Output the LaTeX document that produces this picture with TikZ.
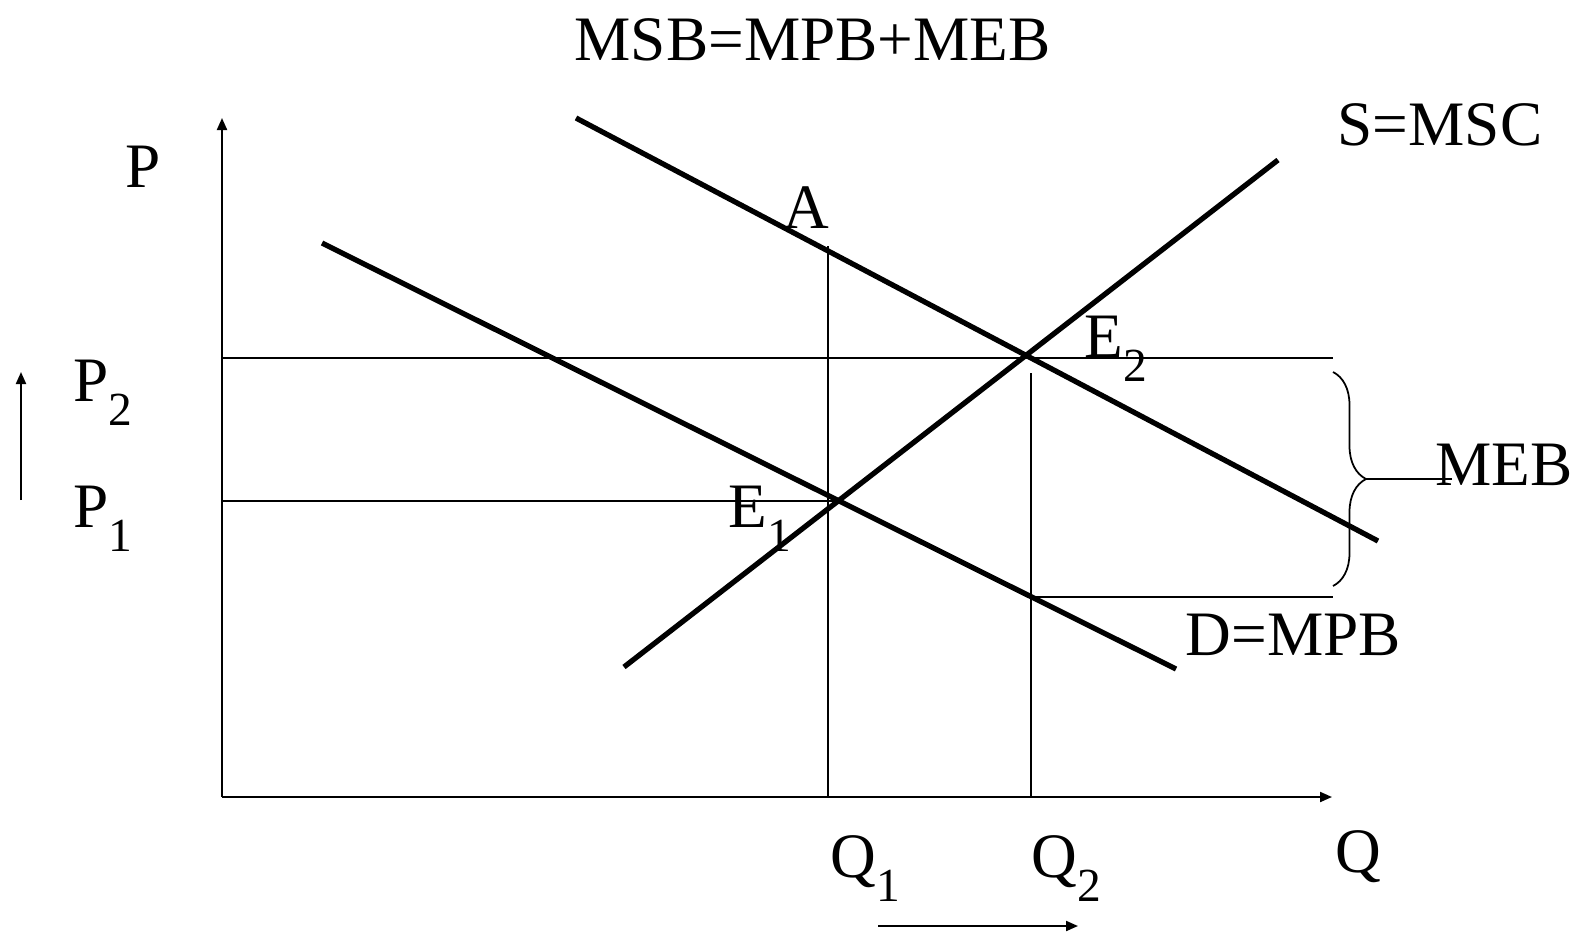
\documentclass[tikz,border=0pt]{standalone}
\usepackage{fontspec}
\setmainfont{Liberation Serif}
\usetikzlibrary{arrows.meta,decorations.pathreplacing}

\newcommand{\lowsub}[1]{\raisebox{-7pt}{\fontsize{13.5}{15}\selectfont #1}}

\begin{document}
\begin{tikzpicture}[x=0.01cm,y=-0.01cm,
  every node/.style={font=\fontsize{18}{21}\selectfont,inner sep=0pt,anchor=base west},
  curve/.style={line width=1.5pt,line cap=butt},
  guide/.style={line width=0.5pt},
  axis/.style={line width=0.6pt,-{Triangle[length=0.12cm,width=0.1cm]}}]
\useasboundingbox (0,0) rectangle (1575,933);
% axes
\coordinate (O) at (222,797);
\coordinate (ytop) at (222,118);
\coordinate (xend) at (1332,797);
\draw[axis] (O) -- (ytop);
\draw[axis] (O) -- (xend);
\node (P) at (125,187) {P};
\node (Q) at (1335,872) {Q};
% the three curves
\coordinate (msb-l) at (576,118); \coordinate (msb-r) at (1378,541);
\coordinate (mpb-l) at (322,243); \coordinate (mpb-r) at (1176,669);
\coordinate (msc-l) at (624,667); \coordinate (msc-r) at (1278,160);
\draw[curve] (msb-l) -- (msb-r);
\draw[curve] (mpb-l) -- (mpb-r);
\draw[curve] (msc-l) -- (msc-r);
% guide lines
\coordinate (E1) at (840,501);
\coordinate (A) at (828,246);
\coordinate (Q1) at (828,797);
\coordinate (Q2) at (1031,797);
\coordinate (Q2top) at (1031,373);
\coordinate (p2l) at (222,358); \coordinate (p2r) at (1333,358);
\coordinate (p1l) at (222,501);
\coordinate (mpbq2) at (1031,597); \coordinate (mpbr) at (1333,597);
\draw[guide] (p2l) -- (p2r);
\draw[guide] (p1l) -- (E1);
\draw[guide] (Q1) -- (A);
\draw[guide] (Q2) -- (Q2top);
\draw[guide] (mpbq2) -- (mpbr);
% brace for MEB
\coordinate (brtop) at (1333,372);
\coordinate (brbot) at (1333,586);
\coordinate (brtip) at (1366,479);
\coordinate (mebend) at (1452,479);
\draw[guide,decorate,decoration={brace,amplitude=0.33cm}] (brtop) -- (brbot);
\draw[guide] (brtip) -- (mebend);
% labels
\node (msb) at (574,60) {MSB=MPB+MEB};
\node (smsc) at (1337,145) {S=MSC};
\node (dmpb) at (1185,655) {D=MPB};
\node (meb) at (1435,485) {MEB};
\node (lA) at (783,228) {A};
\node (lE2) at (1084,357) {E\lowsub{2}};
\node (lE1) at (728,527) {E\lowsub{1}};
\node (P2) at (73,401) {P\lowsub{2}};
\node (P1) at (73,527) {P\lowsub{1}};
\node (Q1lab) at (830,877) {Q\lowsub{1}};
\node (Q2lab) at (1031,877) {Q\lowsub{2}};
% shift arrows
\coordinate (pup-a) at (21,500); \coordinate (pup-b) at (21,372);
\coordinate (qr-a) at (878,926); \coordinate (qr-b) at (1078,926);
\draw[axis] (pup-a) -- (pup-b);
\draw[axis] (qr-a) -- (qr-b);
\end{tikzpicture}
\end{document}
